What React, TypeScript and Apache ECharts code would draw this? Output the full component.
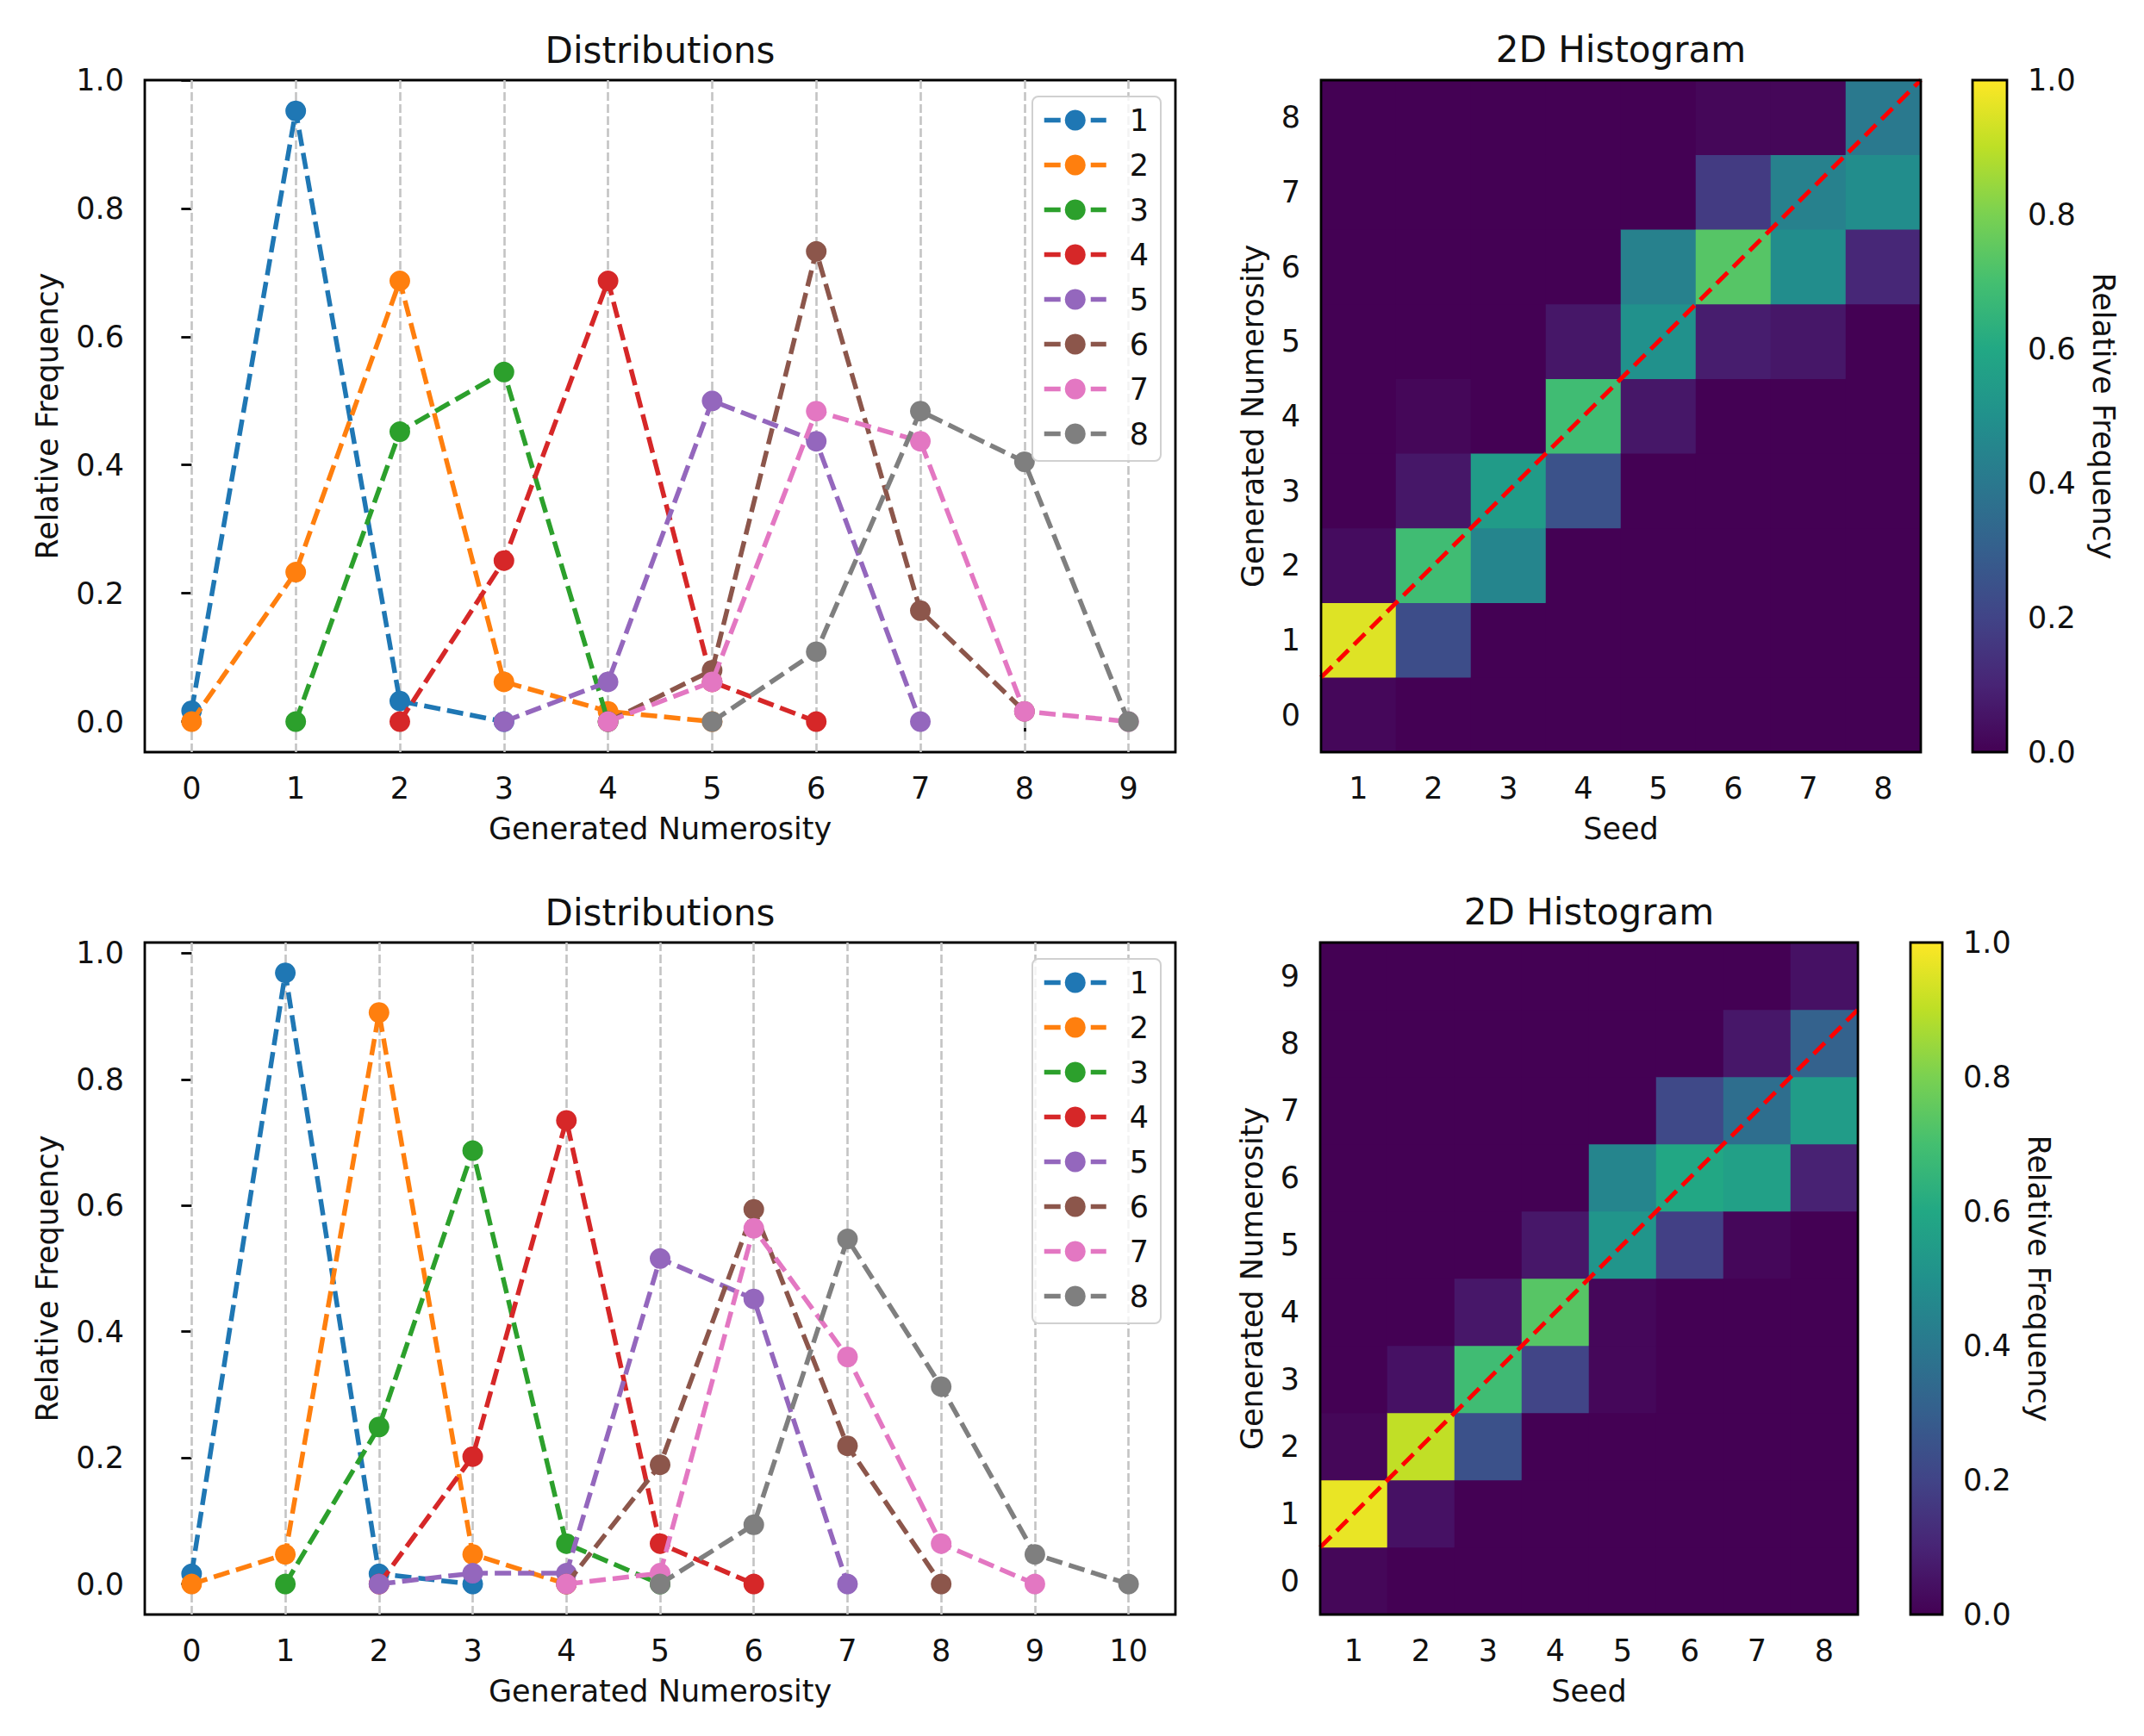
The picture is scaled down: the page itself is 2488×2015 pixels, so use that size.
import { useEffect, useRef } from "react";
import * as echarts from "echarts";

const FONT = "DejaVu Sans";
const INK = "#111";
const COLORS = ["#1f77b4", "#ff7f0e", "#2ca02c", "#d62728", "#9467bd", "#8c564b", "#e377c2", "#7f7f7f"];
const SEEDS = ["1", "2", "3", "4", "5", "6", "7", "8"];
const VIRIDIS = ["#440154", "#482475", "#414487", "#355f8d", "#2a788e", "#21918c", "#22a884", "#44bf70", "#7ad151", "#bddf26", "#fde725"];
const Y_TICKS = [0, 0.2, 0.4, 0.6, 0.8, 1.0];

// top row: generated numerosity 0..9
const topX = [0, 1, 2, 3, 4, 5, 6, 7, 8, 9];
const topRows = ["0", "1", "2", "3", "4", "5", "6", "7", "8"];
const topSeed1 = [0.017, 0.952, 0.032, 0.0, null, null, null, null, null, null];
const topSeed2 = [0.0, 0.233, 0.687, 0.062, 0.016, 0.0, null, null, null, null];
const topSeed3 = [null, 0.0, 0.452, 0.545, 0.0, null, null, null, null, null];
const topSeed4 = [null, null, 0.0, 0.251, 0.687, 0.062, 0.0, null, null, null];
const topSeed5 = [null, null, null, 0.0, 0.062, 0.5, 0.437, 0.0, null, null];
const topSeed6 = [null, null, null, null, 0.0, 0.08, 0.733, 0.173, 0.016, null];
const topSeed7 = [null, null, null, null, 0.0, 0.062, 0.484, 0.437, 0.016, 0.0];
const topSeed8 = [null, null, null, null, null, 0.0, 0.109, 0.484, 0.405, 0.0];

// bottom row: generated numerosity 0..10
const botX = [0, 1, 2, 3, 4, 5, 6, 7, 8, 9, 10];
const botRows = ["0", "1", "2", "3", "4", "5", "6", "7", "8", "9"];
const botSeed1 = [0.016, 0.969, 0.016, 0.0, null, null, null, null, null, null, null];
const botSeed2 = [0.0, 0.047, 0.906, 0.047, 0.0, null, null, null, null, null, null];
const botSeed3 = [null, 0.0, 0.249, 0.687, 0.064, 0.0, null, null, null, null, null];
const botSeed4 = [null, null, 0.0, 0.202, 0.735, 0.064, 0.0, null, null, null, null];
const botSeed5 = [null, null, 0.0, 0.017, 0.017, 0.516, 0.452, 0.0, null, null, null];
const botSeed6 = [null, null, null, null, 0.0, 0.189, 0.594, 0.219, 0.0, null, null];
const botSeed7 = [null, null, null, null, 0.0, 0.017, 0.564, 0.36, 0.064, 0.0, null];
const botSeed8 = [null, null, null, null, null, 0.0, 0.094, 0.547, 0.313, 0.047, 0.0];

const topSeeds = [topSeed1, topSeed2, topSeed3, topSeed4, topSeed5, topSeed6, topSeed7, topSeed8];
const botSeeds = [botSeed1, botSeed2, botSeed3, botSeed4, botSeed5, botSeed6, botSeed7, botSeed8];

const W = 2488;
const H = 2015;
const LW = 5.5;
const DASH = [19, 8];

const text = (size = 35) => ({ fontSize: size, fontFamily: FONT, color: INK });
const tick = { length: 12, lineStyle: { color: "#000", width: 2.8 } };
const border = { show: true, borderColor: "#000", borderWidth: 2.8, backgroundColor: "transparent" };

const App = () => {
  const chartRef = useRef(null);

  useEffect(() => {
    if (!chartRef.current) return;
    const chart = echarts.init(chartRef.current, null, { renderer: "svg" });

    const panels = [
      { xs: topX, seeds: topSeeds, rows: topRows, top: 93, h: 780, heatLeft: 1533, heatW: 696, cbLeft: 2289, cbW: 40, ymin: -0.0476, ymax: 1.0 },
      { xs: botX, seeds: botSeeds, rows: botRows, top: 1094, h: 780, heatLeft: 1532, heatW: 624, cbLeft: 2217, cbW: 37, ymin: -0.0484, ymax: 1.017 },
    ];

    const grid: any[] = [];
    const xAxis: any[] = [];
    const yAxis: any[] = [];
    const series: any[] = [];
    const legend: any[] = [];
    const graphic: any[] = [];
    const heatIdx: number[] = [];

    panels.forEach((p) => {
      const lineLeft = 168;
      const lineW = 1196;
      const span = p.xs[p.xs.length - 1] - p.xs[0];
      const xmin = p.xs[0] - 0.05 * span;
      const xmax = p.xs[p.xs.length - 1] + 0.05 * span;

      // ---- line chart
      const gLine = grid.length;
      grid.push({ left: lineLeft, top: p.top, width: lineW, height: p.h, show: true, borderColor: "#000", borderWidth: 2.8, backgroundColor: "#fff" });
      const xiLine = xAxis.length;
      xAxis.push({
        type: "value", gridIndex: gLine, min: xmin, max: xmax,
        axisLine: { show: false }, splitLine: { show: false },
        axisTick: { ...tick, customValues: p.xs },
        axisLabel: { ...text(), margin: 24, customValues: p.xs, formatter: (v: number) => String(v) },
        name: "Generated Numerosity", nameLocation: "middle", nameGap: 71, nameTextStyle: text(),
      });
      const yiLine = yAxis.length;
      yAxis.push({
        type: "value", gridIndex: gLine, min: p.ymin, max: p.ymax,
        axisLine: { show: false }, splitLine: { show: false },
        axisTick: { ...tick, customValues: Y_TICKS },
        axisLabel: { ...text(), margin: 24, customValues: Y_TICKS, formatter: (v: number) => v.toFixed(1) },
        name: "Relative Frequency", nameLocation: "middle", nameGap: 96, nameTextStyle: text(),
      });
      // vertical dashed grid lines
      series.push({
        type: "line", name: "grid", xAxisIndex: xiLine, yAxisIndex: yiLine, data: [], silent: true, z: 1,
        markLine: {
          z: 1, silent: true, symbol: ["none", "none"], label: { show: false },
          lineStyle: { color: "#c4c4c4", width: 2.6, type: [10, 4] },
          emphasis: { disabled: true },
          data: p.xs.map((v) => ({ xAxis: v })),
        },
      });
      p.seeds.forEach((vals, i) => {
        series.push({
          type: "line", name: SEEDS[i], xAxisIndex: xiLine, yAxisIndex: yiLine,
          data: p.xs.map((x, j) => (vals[j] == null ? null : [x, vals[j]])).filter((d) => d),
          symbol: "circle", symbolSize: 24, color: COLORS[i],
          lineStyle: { width: LW, type: DASH, color: COLORS[i] },
          itemStyle: { color: COLORS[i] },
          z: 2 + i * 0.01,
        });
      });
      legend.push({
        data: SEEDS, orient: "vertical", right: W - 1347, top: p.top + 19,
        itemWidth: 72, itemHeight: 30, itemGap: 17,
        padding: [10, 14, 14, 11],
        backgroundColor: "rgba(255,255,255,0.8)", borderColor: "#d0d0d0", borderWidth: 2, borderRadius: 7,
        lineStyle: { width: LW },
        textStyle: { ...text(), padding: [0, 0, 0, 22] },
        selectedMode: false,
      });
      graphic.push({
        type: "text", x: lineLeft + lineW / 2, y: p.top - 35,
        style: { text: "Distributions", fontSize: 42, fontFamily: FONT, fill: INK, align: "center", verticalAlign: "middle" },
      });

      // ---- heatmap
      const gHeat = grid.length;
      grid.push({ left: p.heatLeft, top: p.top, width: p.heatW, height: p.h });
      const xiHeat = xAxis.length;
      xAxis.push({
        type: "category", gridIndex: gHeat, data: SEEDS,
        axisLine: { show: false }, splitLine: { show: false }, splitArea: { show: false },
        axisTick: { ...tick, alignWithLabel: true },
        axisLabel: { ...text(), margin: 24 },
        name: "Seed", nameLocation: "middle", nameGap: 71, nameTextStyle: text(),
      });
      const yiHeat = yAxis.length;
      yAxis.push({
        type: "category", gridIndex: gHeat, data: p.rows,
        axisLine: { show: false }, splitLine: { show: false }, splitArea: { show: false },
        axisTick: { ...tick, alignWithLabel: true },
        axisLabel: { ...text(), margin: 24 },
        name: "Generated Numerosity", nameLocation: "middle", nameGap: 62, nameTextStyle: text(),
      });
      heatIdx.push(series.length);
      const cells: number[][] = [];
      p.seeds.forEach((vals, s) => {
        p.rows.forEach((_, r) => cells.push([s, r, vals[r] ?? 0]));
      });
      series.push({ type: "heatmap", xAxisIndex: xiHeat, yAxisIndex: yiHeat, data: cells, silent: true, z: 2 });

      // overlay for diagonal and frame
      const gOver = grid.length;
      grid.push({ left: p.heatLeft, top: p.top, width: p.heatW, height: p.h, ...border, z: 5 });
      const xiOver = xAxis.length;
      xAxis.push({ type: "value", gridIndex: gOver, min: 0.5, max: SEEDS.length + 0.5, show: false });
      const yiOver = yAxis.length;
      yAxis.push({ type: "value", gridIndex: gOver, min: -0.5, max: p.rows.length - 0.5, show: false });
      series.push({
        type: "line", xAxisIndex: xiOver, yAxisIndex: yiOver, silent: true, z: 4,
        data: [[0.5, 0.5], [SEEDS.length + 0.5, SEEDS.length + 0.5]],
        symbol: "none", lineStyle: { color: "#ff0000", width: 5, type: [18, 9] },
      });
      graphic.push({
        type: "text", x: p.heatLeft + p.heatW / 2, y: p.top - 36,
        style: { text: "2D Histogram", fontSize: 42, fontFamily: FONT, fill: INK, align: "center", verticalAlign: "middle" },
      });

      // ---- colorbar
      const gCb = grid.length;
      grid.push({ left: p.cbLeft, top: p.top, width: p.cbW, height: p.h, ...border, z: 5 });
      const xiCb = xAxis.length;
      xAxis.push({ type: "category", gridIndex: gCb, data: ["cb"], show: false });
      const yiCb = yAxis.length;
      yAxis.push({
        type: "value", gridIndex: gCb, min: 0, max: 1, interval: 0.2, position: "right",
        axisLine: { show: false }, splitLine: { show: false },
        axisTick: tick,
        axisLabel: { ...text(), margin: 24, formatter: (v: number) => v.toFixed(1) },
        name: "Relative Frequency", nameLocation: "middle", nameRotate: -90, nameGap: 94, nameTextStyle: text(),
      });
      series.push({
        type: "bar", xAxisIndex: xiCb, yAxisIndex: yiCb, data: [1], barWidth: "100%", silent: true,
        itemStyle: {
          color: new echarts.graphic.LinearGradient(0, 1, 0, 0,
            VIRIDIS.map((c, k) => ({ offset: k / (VIRIDIS.length - 1), color: c }))),
        },
      });
    });

    chart.setOption({
      animation: false,
      backgroundColor: "#fff",
      textStyle: { fontFamily: FONT },
      grid, xAxis, yAxis, series, legend, graphic,
      visualMap: {
        type: "continuous", show: false, min: 0, max: 1, seriesIndex: heatIdx,
        inRange: { color: VIRIDIS },
      },
    });

    return () => {
      chart.dispose();
    };
  }, []);

  return <div ref={chartRef} style={{ position: "absolute", left: 0, top: 0, width: W, height: H }} />;
};

export default App;
